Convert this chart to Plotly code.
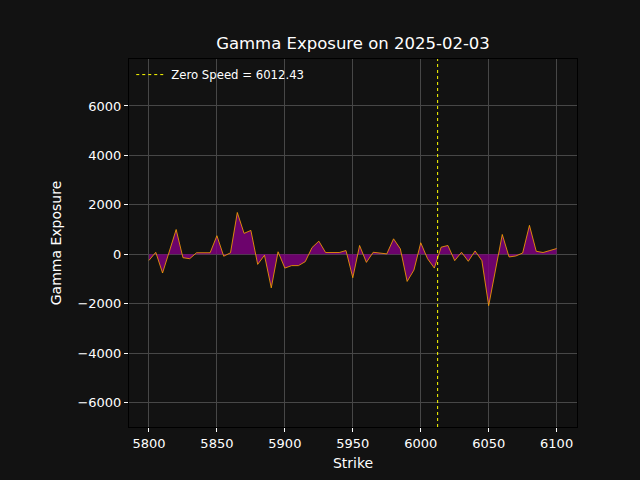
import plotly.graph_objects as go

strikes = list(range(5800, 6105, 5))
gamma = [
    -250, 80, -760, 100, 1000, -140, -180, 60, 60, 60,
    750, -80, 60, 1690, 845, 965, -410, -40, -1360, 100,
    -560, -460, -460, -300, 270, 530, 70, 70, 70, 150,
    -950, 355, -330, 80, 40, 15, 625, 218, -1100, -640,
    465, -180, -560, 285, 355, -260, 80, -285, 135, -260,
    -2080, -620, 800, -110, -70, 50, 1170, 120, 70, 150,
    230,
]
zero_speed = 6012.43
title_date = "2025-02-03"

bg = "#121212"
fig = go.Figure()
fig.add_trace(go.Scatter(
    x=strikes, y=gamma, mode="lines", fill="tozeroy",
    fillcolor="rgba(128,0,128,0.82)",
    line=dict(color="rgba(255,165,0,0.8)", width=1),
    showlegend=False, hoverinfo="skip",
))
fig.add_shape(
    type="line", x0=zero_speed, x1=zero_speed, xref="x", y0=0, y1=1, yref="paper",
    line=dict(color="yellow", width=1, dash="dot"),
    showlegend=True, name=f"Zero Speed = {zero_speed}",
)

fig.update_layout(
    width=640, height=480,
    paper_bgcolor=bg, plot_bgcolor=bg,
    margin=dict(l=129, r=63, t=59, b=53),
    font=dict(family="DejaVu Sans", color="white", size=13),
    title=dict(text=f"Gamma Exposure on {title_date}", x=(129 + 577) / 2 / 640, xanchor="center",
               y=1 - 43 / 480, yanchor="middle", font=dict(size=16.5, color="white")),
    showlegend=True,
    legend=dict(x=0.005, y=0.997, xanchor="left", yanchor="top", bgcolor="rgba(0,0,0,0)",
                font=dict(size=11.7, color="white"), itemwidth=30),
)
fig.update_xaxes(
    range=[5785.3, 6115], tickvals=[5800, 5850, 5900, 5950, 6000, 6050, 6100],
    showgrid=True, gridcolor="#474747", gridwidth=1, zeroline=False,
    showline=True, linecolor="black", linewidth=1, mirror=True, automargin=False,
    ticks="outside", ticklen=4, tickcolor="white", tickfont=dict(size=13),
    title=dict(text="Strike", font=dict(size=14), standoff=8),
)
fig.update_yaxes(
    range=[-6990, 7900], tickvals=[-6000, -4000, -2000, 0, 2000, 4000, 6000],
    ticktext=["\u22126000", "\u22124000", "\u22122000", "0", "2000", "4000", "6000"],
    showgrid=True, gridcolor="#474747", gridwidth=1, zeroline=False,
    showline=True, linecolor="black", linewidth=1, mirror=True, automargin=False,
    ticks="outside", ticklen=4, tickcolor="white", tickfont=dict(size=13),
    title=dict(text="Gamma Exposure", font=dict(size=14), standoff=12),
)
fig.write_html("out.html", config={"displayModeBar": False},
               post_script="document.body.style.margin='0';document.body.style.background='#121212';")
